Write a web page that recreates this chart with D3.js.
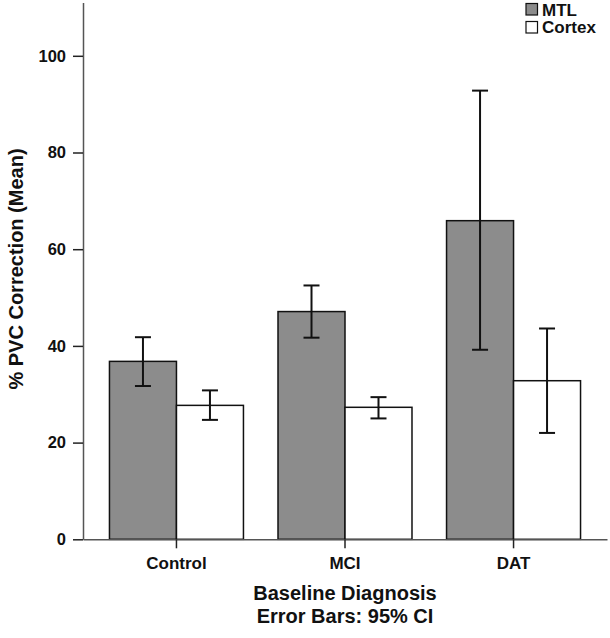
<!DOCTYPE html>
<html>
<head>
<meta charset="utf-8">
<script src="https://cdn.jsdelivr.net/npm/d3@7"></script>
<style>
  html, body { margin: 0; padding: 0; background: #fff; }
  svg { display: block; }
  text { font-family: "Liberation Sans", Arial, Helvetica, sans-serif; font-weight: bold; fill: #111; }
</style>
</head>
<body>
<svg id="chart" width="610" height="638"></svg>
<script>
const categories = ["Control", "MCI", "DAT"];
const seriesNames = ["MTL", "Cortex"];
const mtlMean = [36.8, 47.1, 65.9];
const mtlLow = [31.7, 41.7, 39.2];
const mtlHigh = [41.8, 52.5, 92.8];
const cortexMean = [27.7, 27.3, 32.8];
const cortexLow = [24.7, 25.0, 22.0];
const cortexHigh = [30.8, 29.4, 43.6];
const yTicks = [0, 20, 40, 60, 80, 100];
const seriesFill = ["#8c8c8c", "#ffffff"];

const rows = [];
categories.forEach((c, i) => {
  rows.push({cat: c, series: "MTL", mean: mtlMean[i], low: mtlLow[i], high: mtlHigh[i]});
  rows.push({cat: c, series: "Cortex", mean: cortexMean[i], low: cortexLow[i], high: cortexHigh[i]});
});

const svg = d3.select("#chart");
const left = 83, right = 607, bottom = 539.3;

const x = d3.scaleBand().domain(categories).range([left, right])
  .paddingInner(0.205).paddingOuter(0.157);
const xs = d3.scaleBand().domain(seriesNames).range([0, x.bandwidth()]);
const y = d3.scaleLinear().domain([0, 111]).range([bottom, bottom - 111 * 4.835]);
const color = d3.scaleOrdinal().domain(seriesNames).range(seriesFill);

// bars
svg.append("g").selectAll("rect").data(rows).join("rect")
  .attr("x", d => x(d.cat) + xs(d.series))
  .attr("y", d => y(d.mean))
  .attr("width", xs.bandwidth())
  .attr("height", d => y(0) - y(d.mean))
  .attr("fill", d => color(d.series))
  .attr("stroke", "#111")
  .attr("stroke-width", 1.5);

// error bars
const eb = svg.append("g").attr("stroke", "#111").attr("stroke-width", 2);
const cx = d => x(d.cat) + xs(d.series) + xs.bandwidth() / 2;
eb.selectAll("line.v").data(rows).join("line").attr("class", "v")
  .attr("x1", cx).attr("x2", cx)
  .attr("y1", d => y(d.low)).attr("y2", d => y(d.high));
eb.selectAll("line.t").data(rows).join("line").attr("class", "t")
  .attr("x1", d => cx(d) - 8).attr("x2", d => cx(d) + 8)
  .attr("y1", d => y(d.high)).attr("y2", d => y(d.high));
eb.selectAll("line.b").data(rows).join("line").attr("class", "b")
  .attr("x1", d => cx(d) - 8).attr("x2", d => cx(d) + 8)
  .attr("y1", d => y(d.low)).attr("y2", d => y(d.low));

// y axis
const yAxis = svg.append("g").attr("transform", `translate(${left},0)`)
  .call(d3.axisLeft(y).tickValues(yTicks).tickSize(10).tickPadding(7).tickSizeOuter(0));
yAxis.select(".domain").attr("stroke", "#555").attr("stroke-width", 1.5);
yAxis.selectAll(".tick line").attr("stroke", "#222").attr("stroke-width", 1.5);
yAxis.selectAll(".tick text").style("font-size", "16.5px").style("font-family", "'Liberation Sans', Arial, sans-serif").style("font-weight", "bold").attr("fill", "#111");

// x axis
const xAxis = svg.append("g").attr("transform", `translate(0,${bottom})`)
  .call(d3.axisBottom(x).tickSize(9).tickPadding(9).tickSizeOuter(0));
xAxis.select(".domain").attr("stroke", "#555").attr("stroke-width", 1.5);
xAxis.selectAll(".tick line").attr("stroke", "#222").attr("stroke-width", 1.5);
xAxis.selectAll(".tick text").style("font-size", "17px").style("font-family", "'Liberation Sans', Arial, sans-serif").style("font-weight", "bold").attr("fill", "#111");

// axis titles
svg.append("text").attr("x", (left + right) / 2).attr("y", 600)
  .attr("text-anchor", "middle").style("font-size", "20px").text("Baseline Diagnosis");
svg.append("text").attr("x", (left + right) / 2).attr("y", 623)
  .attr("text-anchor", "middle").style("font-size", "20px").text("Error Bars: 95% CI");
svg.append("text").attr("transform", "translate(23,269) rotate(-90)")
  .attr("text-anchor", "middle").style("font-size", "20px").text("% PVC Correction (Mean)");

// legend
const lg = svg.append("g");
seriesNames.forEach((s, i) => {
  lg.append("rect").attr("x", 526).attr("y", 3.5 + i * 18).attr("width", 11.5).attr("height", 11.5)
    .attr("fill", color(s)).attr("stroke", "#111").attr("stroke-width", 1.2);
  lg.append("text").attr("x", 542).attr("y", 15.5 + i * 17.5).style("font-size", "17px").text(s);
});
</script>
</body>
</html>
